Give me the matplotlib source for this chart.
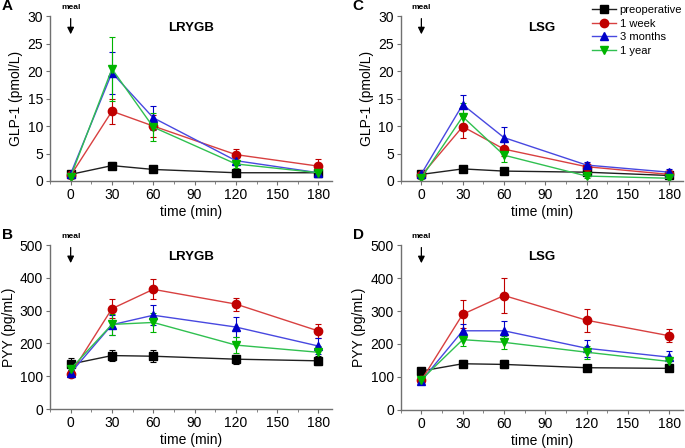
import matplotlib
matplotlib.use("Agg")
import matplotlib.pyplot as plt
from matplotlib.ticker import MultipleLocator
from matplotlib.lines import Line2D

plt.rcParams['font.family'] = ['Liberation Sans', 'DejaVu Sans']

time = [0, 30, 60, 120, 180]
groups = ['preoperative', '1 week', '3 months', '1 year']
marker_colors = ['#000000', '#c00000', '#0000c8', '#00b400']
line_colors = ['#202020', '#d84040', '#4848e0', '#30c050']
markers = ['s', 'o', '^', 'v']

# GLP-1 (pmol/L), LRYGB
glp_lrygb = [[1.2, 2.8, 2.1, 1.5, 1.5],
             [1.0, 12.7, 10.0, 4.8, 2.7],
             [1.3, 19.7, 11.5, 3.7, 1.5],
             [0.8, 20.4, 9.8, 3.1, 1.5]]
glp_lrygb_err = [[0.5, 0.7, 0.5, 0.4, 0.3],
                 [0.4, 2.3, 2.0, 1.0, 1.3],
                 [0.4, 3.8, 2.2, 0.8, 0.5],
                 [0.3, 5.8, 2.6, 0.8, 0.5]]

# GLP-1 (pmol/L), LSG
glp_lsg = [[1.2, 2.2, 1.8, 1.6, 1.0],
           [1.0, 9.9, 5.8, 2.6, 1.2],
           [1.3, 13.9, 7.9, 2.9, 1.6],
           [0.6, 11.7, 4.7, 0.9, 0.5]]
glp_lsg_err = [[0.3, 0.4, 0.3, 0.3, 0.2],
               [0.3, 2.0, 1.3, 0.5, 0.3],
               [0.3, 1.8, 2.0, 0.5, 0.6],
               [0.2, 2.5, 1.2, 0.3, 0.2]]

# PYY (pg/mL), LRYGB
pyy_lrygb = [[137, 163, 161, 152, 147],
             [107, 306, 365, 320, 238],
             [110, 257, 286, 250, 192],
             [122, 258, 264, 195, 173]]
pyy_lrygb_err = [[18, 17, 18, 14, 14],
                 [10, 28, 30, 20, 22],
                 [10, 30, 30, 30, 25],
                 [12, 32, 30, 25, 18]]

# PYY (pg/mL), LSG
pyy_lsg = [[118, 140, 138, 128, 126],
           [90, 290, 347, 272, 225],
           [88, 240, 240, 187, 160],
           [92, 213, 205, 175, 147]]
pyy_lsg_err = [[6, 10, 12, 8, 6],
               [8, 42, 52, 35, 20],
               [8, 20, 30, 25, 20],
               [10, 20, 20, 20, 15]]

panels = [
    ('A', 'LRYGB', glp_lrygb, glp_lrygb_err, 'GLP-1 (pmol/L)', 30, 5, [0.073, 0.596, 0.412, 0.368]),
    ('C', 'LSG', glp_lsg, glp_lsg_err, 'GLP-1 (pmol/L)', 30, 5, [0.585, 0.596, 0.412, 0.368]),
    ('B', 'LRYGB', pyy_lrygb, pyy_lrygb_err, 'PYY (pg/mL)', 500, 100, [0.073, 0.087, 0.412, 0.366]),
    ('D', 'LSG', pyy_lsg, pyy_lsg_err, 'PYY (pg/mL)', 500, 100, [0.585, 0.085, 0.412, 0.368]),
]

fig = plt.figure(figsize=(6.85, 4.48), dpi=100)

for letter, title, vals, errs, ylabel, ymax, ystep, rect in panels:
    ax = fig.add_axes(rect)
    for i, g in enumerate(groups):
        ax.errorbar(time, vals[i], yerr=errs[i], color=line_colors[i], ecolor=marker_colors[i],
                     elinewidth=0.8, capsize=2, capthick=0.8, lw=1.0,
                     marker=markers[i], ms=6, mfc=marker_colors[i], mec=marker_colors[i])
    ax.set_xlim(-15, 190)
    ax.set_ylim(0, ymax)
    ax.set_xticks([0, 30, 60, 90, 120, 150, 180])
    ax.xaxis.set_minor_locator(MultipleLocator(15))
    ax.yaxis.set_major_locator(MultipleLocator(ystep))
    for s in ['top', 'right']:
        ax.spines[s].set_visible(False)
    for s in ['left', 'bottom']:
        ax.spines[s].set_color('#707070')
        ax.spines[s].set_linewidth(1.0)
    ax.tick_params(which='both', direction='out', colors='#707070', labelcolor='black', labelsize=10)
    ax.tick_params(which='major', length=3, pad=2)
    ax.tick_params(which='minor', length=2)
    ax.set_xlabel('time (min)', fontsize=10, labelpad=2)
    ax.set_ylabel(ylabel, fontsize=10, labelpad=3)
    ax.text(0.50, 0.93, title, transform=ax.transAxes, fontsize=9.5, fontweight='bold',
            ha='center', va='center')
    # meal arrow
    ax.annotate('', xy=(0, ymax * 0.89), xytext=(0, ymax * 0.985),
                arrowprops=dict(arrowstyle='-|>', color='black', lw=0.9, mutation_scale=10,
                                shrinkA=0, shrinkB=0),
                annotation_clip=False)
    ax.text(0, ymax * 1.03, 'meal', fontsize=6, fontweight='bold', ha='center', va='bottom')
    ax.text(-0.17, 1.02, letter, transform=ax.transAxes, fontsize=11, fontweight='bold',
            ha='left', va='bottom')

handles = [Line2D([], [], color=line_colors[i], lw=1.0, marker=markers[i], ms=6,
                  mfc=marker_colors[i], mec=marker_colors[i]) for i in range(len(groups))]
fig.legend(handles, groups, loc='upper left', bbox_to_anchor=(592 / 685, 1 - 5 / 448),
           bbox_transform=fig.transFigure, frameon=False, fontsize=8, borderpad=0,
           handlelength=2.2, handletextpad=0.3, labelspacing=0.32, borderaxespad=0)

fig.savefig('out.png', dpi=100)
